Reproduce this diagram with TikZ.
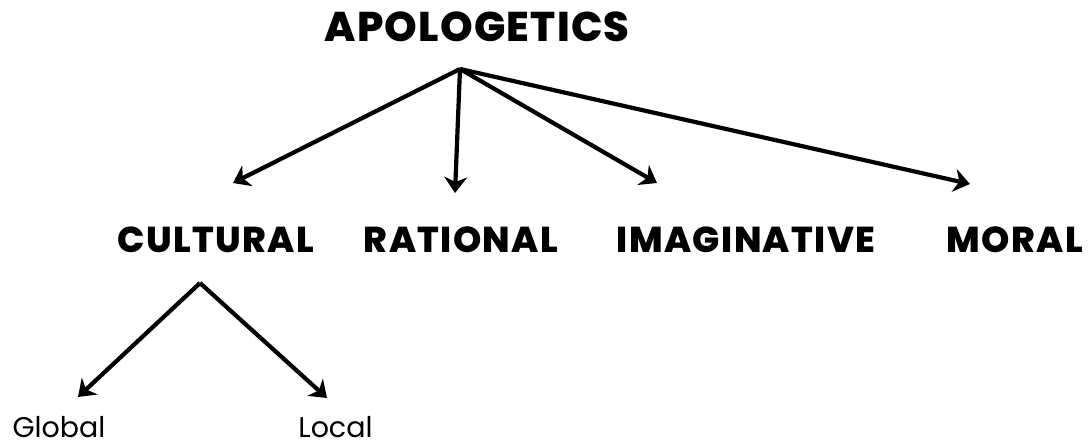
\documentclass[tikz,border=0pt]{standalone}
\usepackage{fontspec}
\setmainfont{Poppins}
\IfFontExistsTF{Poppins ExtraBold}
  {\newfontfamily\heavytitle{Poppins ExtraBold}[LetterSpace=3]
   \newfontfamily\heavy{Poppins ExtraBold}[LetterSpace=3.8]}
  {\newfontfamily\heavytitle{Poppins}[UprightFeatures={FakeBold=1.5},LetterSpace=3]
   \newfontfamily\heavy{Poppins}[UprightFeatures={FakeBold=1.5},LetterSpace=3.8]}
\usetikzlibrary{arrows.meta}
\begin{document}
\begin{tikzpicture}[x=1pt,y=-1pt,
  title/.style={font=\heavytitle\fontsize{41.5}{42}\selectfont, inner sep=0, anchor=base},
  branch/.style={font=\heavy\fontsize{36}{36}\selectfont, inner sep=0, anchor=base},
  leaf/.style={font=\fontsize{28.5}{29}\selectfont, inner sep=0, anchor=base, text depth=0pt},
  link/.style={line width=4.2pt, -{Stealth[length=16pt,width=23pt,inset=5pt]}}]
\useasboundingbox (0,0) rectangle (1088,446);

% labels
\node[title]  (apol) at (477,42)    {APOLOGETICS};
\node[branch] (cult) at (216,253)   {CULTURAL};
\node[branch] (rat)  at (461,253)   {RATIONAL};
\node[branch] (imag) at (746,253)   {IMAGINATIVE};
\node[branch] (mor)  at (1015,253)  {MORAL};
\node[leaf]   (glob) at (59,438)    {Global};
\node[leaf]   (loc)  at (335.5,438) {Local};

% branching points and arrow tips
\coordinate (hub)   at (460,69);
\coordinate (hubc)  at (200,283);
\coordinate (tcult) at (233,183);
\coordinate (trat)  at (455,193);
\coordinate (timag) at (657,183);
\coordinate (tmor)  at (970,184);
\coordinate (tglob) at (78,397);
\coordinate (tloc)  at (327,398);

\draw[link] (hub) -- (tcult);
\draw[link] (hub) -- (trat);
\draw[link] (hub) -- (timag);
\draw[link] (hub) -- (tmor);
\draw[link] (hubc) -- (tglob);
\draw[link] (hubc) -- (tloc);
\end{tikzpicture}
\end{document}
